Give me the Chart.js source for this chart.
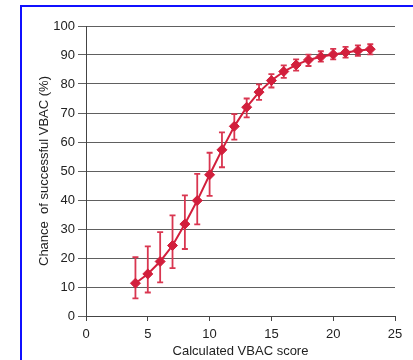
<!DOCTYPE html>
<html>
<head>
<meta charset="utf-8">
<script src="https://cdn.jsdelivr.net/npm/chart.js@4.4.0/dist/chart.umd.min.js"></script>
<style>
  html, body { margin: 0; padding: 0; background: #fff; }
  #wrap { position: relative; width: 413px; height: 360px; overflow: hidden; }
  #frame { position: absolute; left: 20px; top: 5px; width: 500px; height: 500px;
           border-top: 2px solid #1010ff; border-left: 2px solid #1010ff; }
  canvas { position: absolute; left: 0; top: 0; }
</style>
</head>
<body>
<div id="wrap">
  <div id="frame"></div>
  <canvas id="vbacChart" width="413" height="360"></canvas>
</div>
<script>
// VBAC score vs chance of success, with error bars
const scores = [4, 5, 6, 7, 8, 9, 10, 11, 12, 13, 14, 15, 16, 17, 18, 19, 20, 21, 22, 23];
const chance = [11.3, 14.5, 18.8, 24.3, 31.7, 39.8, 48.7, 57.3, 65.4, 72.0, 77.2, 81.2, 84.3, 86.6, 88.3, 89.4, 90.2, 90.9, 91.5, 92.0];
const upper  = [20.3, 24.0, 28.9, 34.7, 41.6, 49.0, 56.3, 63.3, 69.6, 75.0, 79.9, 83.4, 86.4, 88.5, 90.1, 91.3, 92.1, 92.8, 93.3, 93.7];
const lower  = [6.1, 8.1, 11.6, 16.5, 23.1, 31.6, 41.4, 51.3, 60.8, 68.5, 74.5, 78.8, 82.1, 84.6, 86.2, 87.7, 88.5, 89.1, 89.7, 90.2];
const xTicks = [0, 5, 10, 15, 20, 25];
const yTicks = [0, 10, 20, 30, 40, 50, 60, 70, 80, 90, 100];

const red = "#d21f3c";
const barRed = "#d93650";
const font = { family: "Liberation Sans, Arial", size: 12 };

const errorBars = {
  id: "errorBars",
  beforeDatasetsDraw(chart) {
    const ctx = chart.ctx;
    const xs = chart.scales.x, ys = chart.scales.y;
    ctx.save();
    ctx.strokeStyle = barRed;
    ctx.lineWidth = 1.8;
    scores.forEach((s, i) => {
      const px = xs.getPixelForValue(s);
      const top = ys.getPixelForValue(upper[i]);
      const bot = ys.getPixelForValue(lower[i]);
      ctx.beginPath();
      ctx.moveTo(px, top); ctx.lineTo(px, bot);
      ctx.moveTo(px - 3, top); ctx.lineTo(px + 3, top);
      ctx.moveTo(px - 3, bot); ctx.lineTo(px + 3, bot);
      ctx.stroke();
    });
    ctx.restore();
  }
};

const ctx = document.getElementById("vbacChart").getContext("2d");
new Chart(ctx, {
  type: "line",
  data: {
    datasets: [{
      data: scores.map((s, i) => ({ x: s, y: chance[i] })),
      borderColor: red,
      backgroundColor: red,
      borderWidth: 2,
      pointStyle: "rectRot",
      pointRadius: 5,
      pointBorderWidth: 1,
      pointBorderColor: red,
      pointBackgroundColor: red,
      tension: 0
    }]
  },
  options: {
    responsive: false,
    animation: false,
    layout: { padding: { left: 33, right: 18, top: 26, bottom: 0 } },
    plugins: { legend: { display: false }, tooltip: { enabled: false } },
    scales: {
      x: {
        type: "linear",
        min: 0, max: 25,
        afterBuildTicks: (axis) => { axis.ticks = xTicks.map(v => ({ value: v })); },
        afterFit: (axis) => { axis.height = 44; },
        grid: { drawOnChartArea: false, drawTicks: true, tickLength: 5, color: "#444" },
        border: { color: "#444", width: 1 },
        ticks: { color: "#222", font: { family: font.family, size: 13 }, padding: 6, maxRotation: 0 },
        title: { display: true, text: "Calculated VBAC score", color: "#222",
                 font: { family: font.family, size: 13 }, padding: { top: 0, bottom: 1 } }
      },
      y: {
        min: 0, max: 100,
        afterBuildTicks: (axis) => { axis.ticks = yTicks.map(v => ({ value: v })); },
        afterFit: (axis) => { axis.width = 53; },
        grid: { color: "#606060", lineWidth: 1, tickLength: 8 },
        border: { color: "#444", width: 1 },
        ticks: { color: "#222", font: { family: font.family, size: 13 }, padding: 3 },
        title: { display: true, text: "Chance  of successful VBAC (%)", color: "#222",
                 font: { family: font.family, size: 13 }, padding: { top: 4, bottom: 4 } }
      }
    }
  },
  plugins: [errorBars]
});
</script>
</body>
</html>
